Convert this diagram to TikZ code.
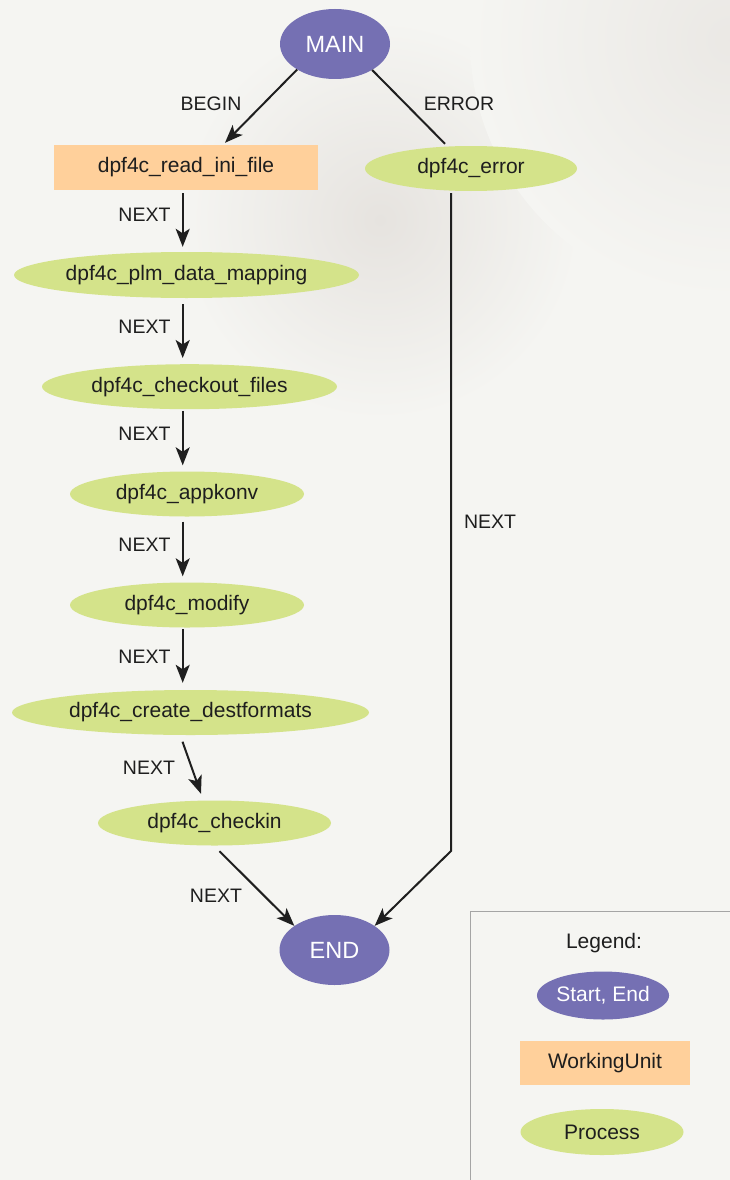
\documentclass[tikz,border=0pt]{standalone}
\usepackage{fontspec}
\setmainfont{Liberation Sans}
\usetikzlibrary{shapes.geometric,arrows.meta,calc}
\definecolor{bgc}{HTML}{F5F5F2}
\definecolor{blob}{HTML}{E6E3DF}
\definecolor{purp}{HTML}{7570B3}
\definecolor{orng}{HTML}{FFD09B}
\definecolor{grn}{HTML}{D4E38A}
\definecolor{lgb}{HTML}{A5A5A5}
\definecolor{txt}{HTML}{1E1E1E}
\begin{document}
\begin{tikzpicture}[x=1pt,y=-1pt,
  every node/.style={text=txt},
  term/.style={ellipse, fill=purp, text=white, inner sep=0pt, minimum width=110pt, minimum height=70pt, font=\fontsize{23.5}{26}\selectfont},
  proc/.style={ellipse, fill=grn, inner sep=0pt, minimum height=45pt, font=\fontsize{21}{24}\selectfont},
  unitbox/.style={rectangle, fill=orng, inner sep=0pt, minimum height=45pt, font=\fontsize{21}{24}\selectfont},
  lbl/.style={inner sep=0pt, font=\fontsize{19.5}{22}\selectfont},
  arr/.style={-{Stealth[length=18pt,width=14pt,inset=4.5pt]}, line width=2pt, draw=black!88},
  plain/.style={line width=2pt, draw=black!88},
  legtxt/.style={font=\fontsize{21}{24}\selectfont},
]
\useasboundingbox (0,0) rectangle (730,1180);
% background
\begin{scope}
\clip (0,0) rectangle (730,1180);
\fill[bgc] (0,0) rectangle (730,1180);
\shade[inner color=blob, outer color=bgc] (380,220) circle (200);
\shade[inner color=blob!70!bgc, outer color=bgc] (730,40) circle (260);
\end{scope}

% nodes
\node[term] (main) at (335,44) {MAIN};
\node[unitbox, minimum width=264pt] (read) at (186,167.5) {dpf4c\_read\_ini\_file};
\node[proc, minimum width=212pt] (err) at (471,168.5) {dpf4c\_error};
\node[proc, minimum width=345pt, minimum height=46pt] (plm) at (186.5,275) {dpf4c\_plm\_data\_mapping};
\node[proc, minimum width=295pt] (chk) at (189.5,386.7) {dpf4c\_checkout\_files};
\node[proc, minimum width=234pt] (app) at (187,494) {dpf4c\_appkonv};
\node[proc, minimum width=234pt] (mod) at (187,605) {dpf4c\_modify};
\node[proc, minimum width=357pt] (cre) at (190.5,712.5) {dpf4c\_create\_destformats};
\node[proc, minimum width=233pt] (cin) at (214.5,823) {dpf4c\_checkin};
\node[term] (end) at (334.5,950) {END};

\coordinate (ax) at (182.7,0);
\coordinate (ebend) at (451,851);

% connectors
\draw[arr] (main.214) -- ($(read.north)+(39,-2)$);
\node[lbl] (lbegin) at (211,104) {BEGIN};
\draw[plain] (main.-35) -- ($(err.north)+(-26,-2)$);
\node[lbl] (lerror) at (459,104) {ERROR};

\draw[arr] ($(read.south -| ax)+(0,3)$) -- ($(plm.north -| ax)+(0,-5)$);
\node[lbl] (l1) at (144.5,215) {NEXT};
\draw[arr] ($(plm.south -| ax)+(0,6)$) -- ($(chk.north -| ax)+(0,-6)$);
\node[lbl] (l2) at (144.5,326.7) {NEXT};
\draw[arr] ($(chk.south -| ax)+(0,1.5)$) -- ($(app.north -| ax)+(0,-6)$);
\node[lbl] (l3) at (144.5,434) {NEXT};
\draw[arr] ($(app.south -| ax)+(0,5)$) -- ($(mod.north -| ax)+(0,-6)$);
\node[lbl] (l4) at (144.5,545) {NEXT};
\draw[arr] ($(mod.south -| ax)+(0,1.5)$) -- ($(cre.north -| ax)+(0,-7)$);
\node[lbl] (l5) at (144.5,656.7) {NEXT};
\draw[arr] ($(cre.south)+(-8,6.5)$) -- ($(cin.north)+(-13.5,-6.5)$);
\node[lbl] (l6) at (149,768) {NEXT};
\draw[arr] ($(cin.south)+(5,5.5)$) -- (end.149);
\node[lbl] (l7) at (216,896) {NEXT};
\draw[arr] ($(err.south -| ebend)+(0,2)$) -- (ebend) -- (end.31);
\node[lbl] (l8) at (490,522) {NEXT};

% legend
\draw[lgb, line width=1.6pt] (731,911.5) -- (470.5,911.5) -- (470.5,1181);
\node[legtxt] (legt) at (604,943) {Legend:};
\node[ellipse, fill=purp, text=white, inner sep=0pt, minimum width=122pt, minimum height=48pt, legtxt] (lse) at (603,995.5) {Start, End};
\node[rectangle, fill=orng, inner sep=0pt, minimum width=170pt, minimum height=44pt, legtxt] (lwu) at (605,1063) {WorkingUnit};
\node[ellipse, fill=grn, inner sep=0pt, minimum width=163pt, minimum height=46pt, legtxt] (lpr) at (602,1132) {Process};
\end{tikzpicture}
\end{document}
